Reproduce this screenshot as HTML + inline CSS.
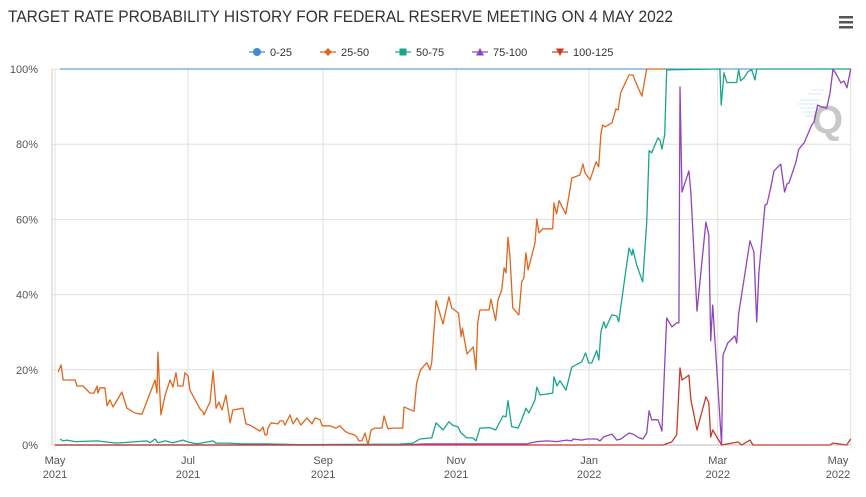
<!DOCTYPE html>
<html><head><meta charset="utf-8"><style>
html,body{margin:0;padding:0;background:#fff;}
svg{display:block;font-family:"Liberation Sans",sans-serif;}
</style></head><body>
<svg id="chart" width="866" height="497" viewBox="0 0 866 497">
<text x="8" y="22" font-size="17" fill="#333" textLength="665" lengthAdjust="spacingAndGlyphs">TARGET RATE PROBABILITY HISTORY FOR FEDERAL RESERVE MEETING ON 4 MAY 2022</text>
<g fill="#555"><rect x="839" y="16" width="14" height="2.5"/><rect x="839" y="21" width="14" height="2.5"/><rect x="839" y="26" width="14" height="2.5"/></g>
<g><g stroke="#cfeefb" stroke-width="1"><line x1="800" y1="100" x2="820" y2="100"/><line x1="798" y1="104" x2="818" y2="104"/><line x1="800" y1="108" x2="818" y2="108"/><line x1="802" y1="112" x2="816" y2="112"/><line x1="806" y1="116" x2="816" y2="116"/><line x1="808" y1="94" x2="822" y2="94"/><line x1="812" y1="90" x2="824" y2="90"/></g><text x="812" y="133" font-size="40" font-weight="bold" fill="#c8c8c8">Q</text></g>
<g id="grid"></g><g id="axes"></g><g id="series"></g><g id="legend"></g>
</svg>
<script>
const tickDays=[0,61,123,184,245,304,365];
const tickMonths=["May","Jul","Sep","Nov","Jan","Mar","May"];
const tickYears=["2021","2021","2021","2021","2022","2022","2022"];
const yTicks=[0,20,40,60,80,100];
const seriesNames=["0-25","25-50","50-75","75-100","100-125"];
const seriesColors=["#3d8bd0","#e0661d","#1aa58a","#9146b8","#c63b2e"];
const s0=[[2.3,100],[365.1,100]];
const s1=[[1.4,19.4],[2.8,21.3],[3.7,17.3],[9.2,17.3],[10.1,15.7],[12.8,15.7],[16.1,13.8],[17.9,13.8],[19.3,15.7],[19.7,13.8],[20.6,15.2],[22.9,15.2],[23.9,10.4],[25.2,12.0],[26.6,10.1],[30.7,14.1],[33.0,9.8],[36.7,8.5],[39.9,8.2],[43.6,13.8],[44.0,14.4],[45.9,17.3],[46.8,13.8],[47.2,24.7],[48.6,8.0],[50.5,13.3],[52.8,17.3],[54.1,15.4],[55.5,19.2],[56.4,15.7],[58.7,15.7],[59.6,19.2],[61.0,18.4],[61.9,14.6],[66.5,9.6],[67.9,8.8],[68.3,8.0],[71.1,11.4],[72.5,19.7],[73.9,9.8],[75.2,11.4],[76.6,9.3],[78.4,13.3],[80.3,5.9],[81.6,9.3],[86.2,9.8],[87.6,5.6],[89.4,5.3],[94.0,3.7],[95.4,4.8],[96.3,2.7],[97.2,2.7],[97.7,4.5],[99.1,5.9],[102.3,5.6],[103.2,6.4],[104.6,6.4],[105.5,5.3],[107.8,8.0],[109.2,5.6],[111.0,7.2],[112.8,5.3],[115.6,7.2],[117.9,5.6],[119.3,7.2],[121.6,6.7],[122.5,5.1],[126.1,5.1],[128.9,4.5],[130.7,5.1],[133.0,3.7],[134.4,3.2],[137.2,2.7],[138.5,2.1],[139.4,1.1],[140.8,1.1],[142.2,3.2],[143.6,0],[145.0,4.0],[146.8,4.5],[150.0,4.5],[150.9,7.7],[152.7,4.3],[154.6,4.5],[159.5,4.5],[160.1,10.1],[164.7,9.0],[165.9,16.6],[167.7,20.0],[170.5,21.9],[172.0,20.0],[172.8,21.8],[174.8,38.4],[178.0,32.2],[180.7,39.4],[182.0,36.4],[185.1,35.1],[186.3,28.8],[186.9,31.1],[189.0,24.2],[191.9,26.1],[193.1,20.0],[193.9,32.5],[194.9,35.9],[199.1,35.9],[200.0,38.8],[202.1,33.1],[203.2,38.6],[204.9,41.2],[206.0,47.1],[206.9,45.8],[207.8,55.3],[208.7,50.0],[210.0,36.4],[212.8,34.6],[214.1,43.4],[215.1,44.4],[216.0,51.1],[217.0,46.6],[220.2,53.7],[221.0,60.1],[222.0,56.4],[223.7,57.5],[228.3,57.5],[228.9,64.4],[230.1,61.4],[231.2,65.0],[234.3,61.4],[237.1,71.0],[240.8,71.8],[242.2,74.7],[243.1,72.4],[245.4,70.5],[248.2,75.3],[249.4,74.0],[250.4,82.7],[251.2,85.1],[252.3,84.6],[255.5,85.7],[257.3,89.4],[258.3,89.1],[259.5,93.7],[263.3,98.4],[265.1,98.4],[266.9,95.8],[269.2,92.8],[271.4,100],[280.7,100]];
const s2=[[2.3,1.6],[3.7,1.1],[5.4,1.3],[9.2,0.9],[19.7,1.1],[22.0,0.9],[28.3,0.5],[42.1,1.1],[43.6,0.6],[45.9,1.6],[47.2,0.6],[50.5,1.1],[54.1,0.6],[58.7,1.3],[61.0,0.8],[65.0,0.3],[72.5,1.1],[73.7,0.5],[78.8,0.5],[86.2,0.3],[97.1,0.3],[112.4,0.1],[158.3,0.2],[164.2,0.5],[167.4,1.6],[172.8,1.9],[174.8,5.9],[178.0,4.0],[180.7,6.2],[182.4,5.3],[184.9,4.8],[186.1,3.3],[188.9,1.9],[191.7,1.9],[193.1,1.1],[194.9,4.5],[199.5,4.6],[202.1,4.0],[205.5,7.7],[206.9,7.5],[207.8,11.8],[209.5,4.9],[212.4,4.5],[214.2,6.9],[216.0,9.8],[217.4,8.5],[220.2,12.0],[221.0,15.4],[222.5,13.3],[228.3,13.8],[228.9,18.1],[230.3,15.7],[231.6,17.1],[234.4,14.6],[237.0,20.7],[241.6,22.1],[243.4,24.5],[244.8,21.8],[246.2,21.8],[248.5,25.1],[249.5,22.6],[250.4,30.1],[251.8,32.8],[252.6,31.1],[255.4,34.6],[257.7,34.3],[258.6,32.8],[263.3,52.4],[264.7,50.5],[265.1,52.1],[266.8,47.9],[269.6,43.4],[271.4,59.1],[272.5,78.3],[273.7,77.7],[276.6,81.7],[277.5,81.1],[278.4,78.7],[279.7,82.5],[280.6,99.8],[305.0,100],[305.6,90.4],[306.9,99.0],[308.2,96.4],[312.7,96.4],[313.6,99.8],[314.5,96.9],[316.0,97.6],[317.9,99.3],[319.6,99.8],[321.1,97.1],[321.9,100],[365.1,100]];
const s3=[[0,0],[160,0],[170,0.3],[216.4,0.3],[221.0,0.9],[225.5,1.1],[230.1,0.9],[234.7,1.3],[237.0,1.1],[237.6,1.6],[241.6,1.3],[243.9,1.6],[248.5,1.6],[250.0,1.1],[251.8,2.2],[255.4,2.9],[257.7,1.3],[259.6,1.6],[263.3,3.2],[265.1,2.9],[267.9,1.9],[269.7,1.6],[271.4,3.2],[272.5,9.1],[273.7,6.7],[276.6,6.7],[277.5,5.3],[278.4,3.7],[280.6,33.8],[283.0,31.4],[285.2,32.5],[286.2,32.5],[286.7,95.2],[287.6,67.3],[290.8,72.9],[291.7,67.0],[294.5,35.6],[298.6,59.3],[299.9,55.9],[300.8,27.7],[301.7,37.2],[305.8,0],[306.4,23.9],[308.6,27.1],[311.9,29.0],[312.7,27.1],[313.6,34.8],[318.8,54.3],[320.6,51.3],[321.9,32.7],[322.9,45.8],[325.7,63.8],[326.6,64.1],[328.3,68.4],[329.8,72.9],[332.9,74.7],[334.7,67.3],[335.8,69.4],[336.7,69.7],[339.9,75.3],[341.1,78.5],[342.7,79.8],[343.6,80.3],[347.1,85.1],[348.2,85.9],[349.8,90.4],[351.7,89.9],[354.0,89.6],[355.5,93.6],[356.9,100],[358.6,98.4],[360.5,96.3],[361.9,96.8],[363.3,95.0],[365.0,100]];
const s4=[[0,0],[279,0],[282.9,0.8],[285.2,2.7],[286.7,20.5],[287.6,17.3],[290.8,18.6],[291.7,12.0],[294.5,4.0],[298.6,12.8],[299.9,11.2],[300.8,2.1],[301.7,4.0],[305.8,0],[313.3,0.8],[315.0,0],[318.8,1.3],[320.2,0],[355.5,0],[356.9,0.5],[363.1,0],[365.0,1.6]];
const allSeries=[s0,s1,s2,s3,s4];

const NS="http://www.w3.org/2000/svg";
const X0=55,PXD=2.18,Y0=445,YH=376,PL=52,PR=851;
function xs(d){return X0+d*PXD;}
function ys(v){return Y0-v/100*YH;}
function mk(tag,attrs,parent){const e=document.createElementNS(NS,tag);for(const k in attrs)e.setAttribute(k,attrs[k]);parent.appendChild(e);return e;}
const grid=document.getElementById('grid'),axes=document.getElementById('axes'),ser=document.getElementById('series'),leg=document.getElementById('legend');
yTicks.forEach(v=>{
  const l=mk('line',{x1:PL,x2:PR,y1:ys(v),y2:ys(v),stroke:v===0?'#bbb':'#e0e0e0','stroke-width':1},grid);
  
  
  const t=mk('text',{x:38,y:ys(v)+4,'text-anchor':'end','font-size':11,fill:'#555'},axes);
  t.textContent=v+'%';
  
  
});
tickDays.forEach((d,i)=>{
  const l=mk('line',{x1:xs(d),x2:xs(d),y1:ys(100),y2:Y0+4,stroke:'#e0e0e0','stroke-width':1},grid);
  
  
  let cx=xs(d); if(i===tickDays.length-1) cx=Math.min(cx,838);
  const t=mk('text',{x:cx,y:464,'text-anchor':'middle','font-size':11,fill:'#555'},axes);
  t.textContent=tickMonths[i];
  
  
  const t2=mk('text',{x:cx,y:478,'text-anchor':'middle','font-size':11,fill:'#555'},axes);
  t2.textContent=tickYears[i];
  
  
});
const al=mk('line',{x1:PL,x2:PL,y1:ys(100),y2:Y0,stroke:'#ccc','stroke-width':1},axes);


allSeries.forEach((s,i)=>{
  const p=mk('polyline',{points:s.map(q=>xs(q[0]).toFixed(1)+','+ys(q[1]).toFixed(1)).join(' '),fill:'none',stroke:seriesColors[i],'stroke-width':i===0?1:1.3,'stroke-linejoin':'round'},ser);
  
  
});
const legX=[249,320,395,472,552];
seriesNames.forEach((n,i)=>{
  const g=mk('g',{},leg);
  
  
  const x=legX[i],y=52,c=seriesColors[i];
  mk('line',{x1:x,x2:x+16,y1:y,y2:y,stroke:c,'stroke-width':2,opacity:0.6},g);
  const m=x+8;
  if(i===0) mk('circle',{cx:m,cy:y,r:4,fill:c},g);
  else if(i===1) mk('path',{d:`M${m} ${y-4}L${m+4} ${y}L${m} ${y+4}L${m-4} ${y}Z`,fill:c},g);
  else if(i===2) mk('rect',{x:m-3.5,y:y-3.5,width:7,height:7,fill:c},g);
  else if(i===3) mk('path',{d:`M${m} ${y-4}L${m+4} ${y+3.5}L${m-4} ${y+3.5}Z`,fill:c},g);
  else mk('path',{d:`M${m} ${y+4}L${m+4} ${y-3.5}L${m-4} ${y-3.5}Z`,fill:c},g);
  const t=mk('text',{x:x+21,y:y+4,'font-size':11,fill:'#333'},g);
  t.textContent=n;
});
</script>
</body></html>
